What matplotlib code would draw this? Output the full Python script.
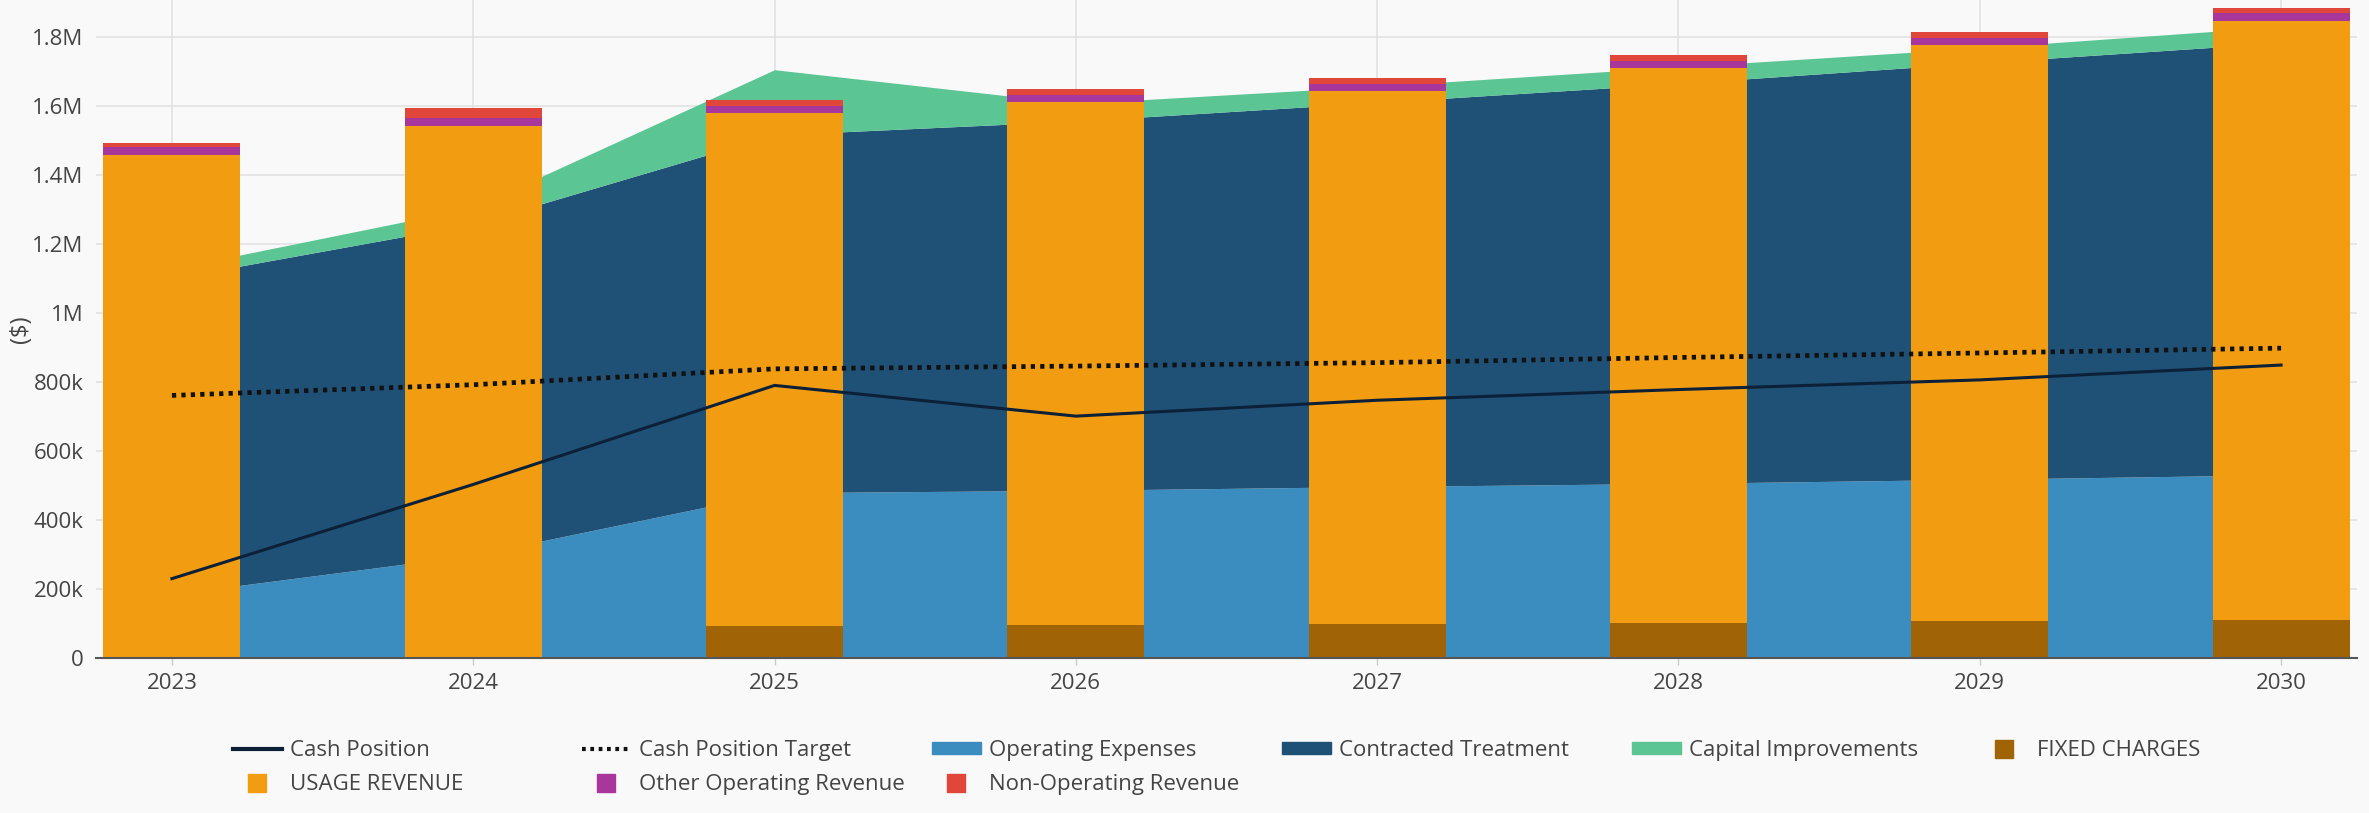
import numpy as np
import matplotlib.pyplot as plt
from matplotlib.lines import Line2D
from matplotlib.patches import Patch
from matplotlib.ticker import FuncFormatter

plt.rcParams['font.family'] = ['Open Sans', 'DejaVu Sans']

# values in $k
years = [2023, 2024, 2025, 2026, 2027, 2028, 2029, 2030]

operating_expenses = [185, 298, 479, 486, 497, 506, 518, 531]
contracted_treatment = [915, 960, 1037, 1070, 1113, 1159, 1207, 1252]
capital_improvements = [28, 47, 189, 51, 47, 48, 43, 47]

fixed_charges = [0, 0, 93, 96, 98, 101, 106, 110]
usage_revenue = [1458, 1542, 1487, 1516, 1546, 1608, 1672, 1737]
other_operating = [22, 22, 20, 21, 21, 21, 19, 21]
non_operating = [13, 31, 17, 15, 15, 17, 17, 17]

cash_position = [230, 503, 790, 701, 747, 778, 806, 849]
cash_target = [761, 792, 838, 846, 856, 871, 884, 898]

C_OPEX = '#3c8dbf'
C_CT = '#1f5075'
C_CI = '#5bc594'
C_FIXED = '#a06406'
C_USAGE = '#f29c12'
C_OTHER = '#a8369b'
C_NONOP = '#e0473a'
C_CASH = '#0c2138'
BG = '#f9f9f9'
TXT = '#444444'

FS = 16


def main():
    x = np.array(years)
    k = 1000.0

    fig = plt.figure(figsize=(23.69, 8.13), dpi=100, facecolor=BG)
    ax = fig.add_axes([96 / 2369, 1 - 658 / 813, (2357 - 96) / 2369, 658 / 813])
    ax.set_facecolor(BG)

    # stacked areas (expenses)
    opex = np.array(operating_expenses) * k
    ct = opex + np.array(contracted_treatment) * k
    ci = ct + np.array(capital_improvements) * k
    ax.fill_between(x, 0, opex, color=C_OPEX, lw=0, zorder=2)
    ax.fill_between(x, opex, ct, color=C_CT, lw=0, zorder=2)
    ax.fill_between(x, ct, ci, color=C_CI, lw=0, zorder=2)

    # stacked bars (revenue)
    w = 0.455
    bottom = np.zeros(len(years))
    for vals, col in [(fixed_charges, C_FIXED), (usage_revenue, C_USAGE),
                      (other_operating, C_OTHER), (non_operating, C_NONOP)]:
        v = np.array(vals) * k
        ax.bar(x, v, width=w, bottom=bottom, color=col, lw=0, zorder=3)
        bottom += v

    # cash lines
    ax.plot(x, np.array(cash_position) * k, color=C_CASH, lw=2.2, zorder=4)
    ax.plot(x, np.array(cash_target) * k, color='#111111', lw=3.4,
            linestyle=(0, (0.9, 1.1)), zorder=4)

    ax.set_xlim(2022.748, 2030.252)
    ax.set_ylim(0, 1907000)
    ax.set_xticks(years)
    ax.set_yticks(np.arange(0, 1800001, 200000))

    def fmt(v, pos):
        if v == 0:
            return '0'
        if v >= 1e6:
            return f'{v / 1e6:g}M'
        return f'{v / 1e3:g}k'
    ax.yaxis.set_major_formatter(FuncFormatter(fmt))

    ax.grid(True, color='#e1e1e1', lw=1.2, zorder=0)
    ax.set_axisbelow(True)
    for s in ['top', 'right', 'left']:
        ax.spines[s].set_visible(False)
    ax.spines['bottom'].set_color('#555555')
    ax.spines['bottom'].set_linewidth(1.5)
    ax.spines['bottom'].set_zorder(5)
    ax.tick_params(axis='x', length=5, width=1, color='#cccccc', labelsize=FS,
                   labelcolor=TXT, pad=6)
    ax.tick_params(axis='y', length=0, labelsize=FS, labelcolor=TXT, pad=9)
    ax.set_ylabel('($)', fontsize=FS + 1, color=TXT)
    ax.yaxis.set_label_coords((33 - 96) / (2357 - 96), 0.5)

    # legend, one column at a time so the columns sit on an even grid
    sq = dict(marker='s', markersize=13.5, linestyle='none')
    items = [
        [(Line2D([], [], color=C_CASH, lw=3), 'Cash Position'),
         (Line2D([], [], color=C_USAGE, **sq), 'USAGE REVENUE')],
        [(Line2D([], [], color='#111111', lw=3, linestyle=(0, (0.9, 1.1))), 'Cash Position Target'),
         (Line2D([], [], color=C_OTHER, **sq), 'Other Operating Revenue')],
        [(Patch(color=C_OPEX), 'Operating Expenses'),
         (Line2D([], [], color=C_NONOP, **sq), 'Non-Operating Revenue')],
        [(Patch(color=C_CT), 'Contracted Treatment')],
        [(Patch(color=C_CI), 'Capital Improvements')],
        [(Line2D([], [], color=C_FIXED, **sq), 'FIXED CHARGES')],
    ]
    col_x = [233, 582, 932, 1282, 1632, 1980]
    for cx, col in zip(col_x, items):
        fig.legend([h for h, _ in col], [l for _, l in col], loc='upper left',
                   bbox_to_anchor=(cx / 2369, 1 - 740 / 813), frameon=False,
                   fontsize=FS, labelcolor=TXT, borderpad=0, borderaxespad=0,
                   handlelength=2.2, handleheight=0.42, handletextpad=0.36,
                   labelspacing=0.57)

    fig.savefig('out.png', dpi=100, facecolor=BG)


if __name__ == '__main__':
    main()
